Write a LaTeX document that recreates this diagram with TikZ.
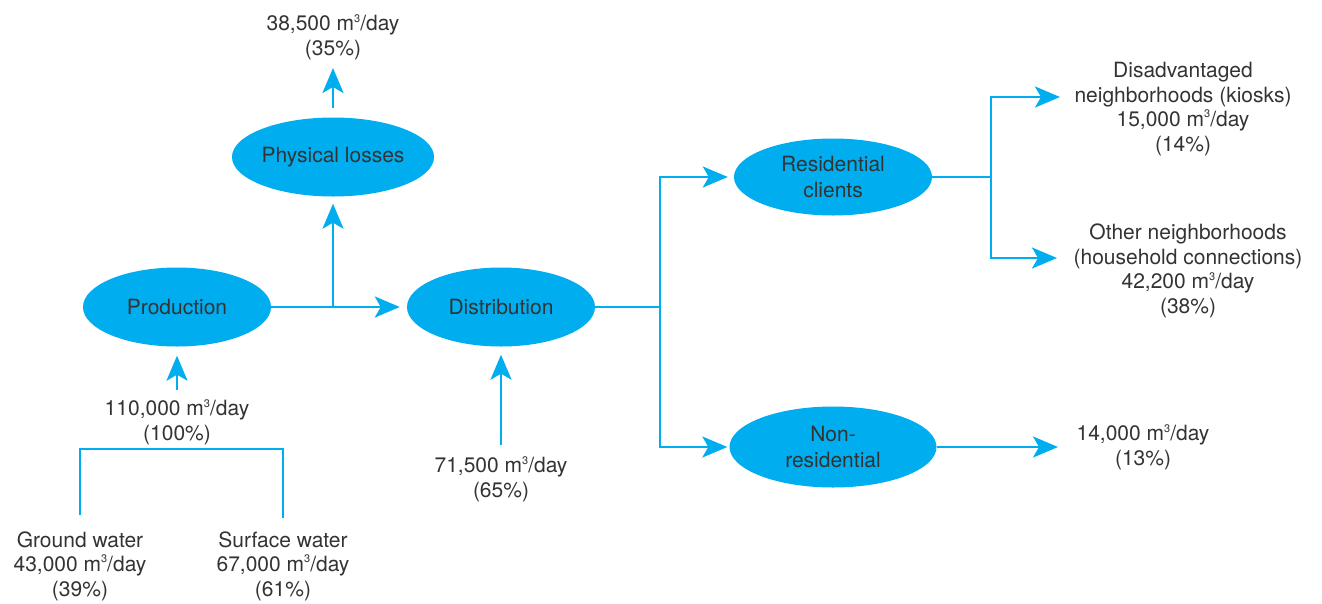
\documentclass[tikz,border=0pt]{standalone}
\usepackage{fontspec}
\setmainfont{TeX Gyre Heros}
\usetikzlibrary{arrows.meta,shapes.geometric}
\definecolor{flowcyan}{HTML}{00AEEF}
\definecolor{labelgrey}{HTML}{333333}
\newcommand{\mday}[1]{#1 m\raisebox{0.42em}{\fontsize{11}{11}\selectfont 3}/day}

\begin{document}
\begin{tikzpicture}[x=1pt,y=-1pt,
  stage/.style={ellipse,fill=flowcyan,inner sep=0pt,minimum width=#1,
        minimum height=79pt,text=labelgrey,align=center,
        font=\fontsize{21}{25.5}\selectfont},
  figure/.style={inner sep=0pt,text=labelgrey,align=center,
        font=\fontsize{21}{24.5}\selectfont},
  pipe/.style={draw=flowcyan,line width=2.4pt},
  flow/.style={pipe,-{Stealth[length=25pt,width=21pt,inset=6pt]}}]
  \useasboundingbox (0,0) rectangle (1322,603);

  % ellipses
  \node[stage=188pt] (prod) at (177,307) {Production};
  \node[stage=188pt] (dist) at (501,307) {Distribution};
  \node[stage=189pt] (loss) at (333,157) {Physical losses};
  \node[stage=198pt,minimum height=77pt] (resi) at (833,177) {Residential\\clients};
  \node[stage=207pt,minimum height=81pt] (nonr) at (833,447) {Non-\\residential};

  % volumes
  \node[figure] (lossq) at (333,37) {\mday{38,500}\\(35\%)};
  \node[figure] (prodq) at (177,422) {\mday{110,000}\\(100\%)};
  \node[figure] (gwq) at (80,566) {Ground water\\\mday{43,000}\\(39\%)};
  \node[figure] (swq) at (283,566) {Surface water\\\mday{67,000}\\(61\%)};
  \node[figure] (distq) at (501,479) {\mday{71,500}\\(65\%)};
  \node[figure] (kioskq) at (1183,109) {Disadvantaged\\neighborhoods (kiosks)\\\mday{15,000}\\(14\%)};
  \node[figure] (homeq) at (1188,271) {Other neighborhoods\\(household connections)\\\mday{42,200}\\(38\%)};
  \node[figure] (nonrq) at (1143,447) {\mday{14,000}\\(13\%)};

  % free ends
  \coordinate (losstip) at (333,68);
  \coordinate (split) at (333,307);
  \coordinate (prodin) at (177,390);
  \coordinate (gwtop) at (80,515);
  \coordinate (swtop) at (283,518);
  \coordinate (distin) at (501,445);
  \coordinate (kioskin) at (1060,97);
  \coordinate (homein) at (1057,258);
  \coordinate (nonrout) at (1058,447);

  % connectors
  \draw[pipe] (gwtop) -- ++(0,-66) -| (swtop);
  \draw[flow,shorten >=9pt] (prodin) -- (prod);
  \draw[flow,shorten >=7pt] (prod) -- (dist);
  \draw[flow,shorten >=7pt] (split) -- (loss);
  \draw[flow,shorten <=9pt] (loss) -- (losstip);
  \draw[flow,shorten >=8pt] (distin) -- (dist);
  \draw[flow,shorten >=6pt] (dist.east) -- ++(65,0) |- (resi.west);
  \draw[flow,shorten >=2pt] (dist.east) -- ++(65,0) |- (nonr.west);
  \draw[flow] (resi.east) -- ++(59,0) |- (kioskin);
  \draw[flow] (resi.east) -- ++(59,0) |- (homein);
  \draw[flow] (nonr) -- (nonrout);
\end{tikzpicture}
\end{document}
